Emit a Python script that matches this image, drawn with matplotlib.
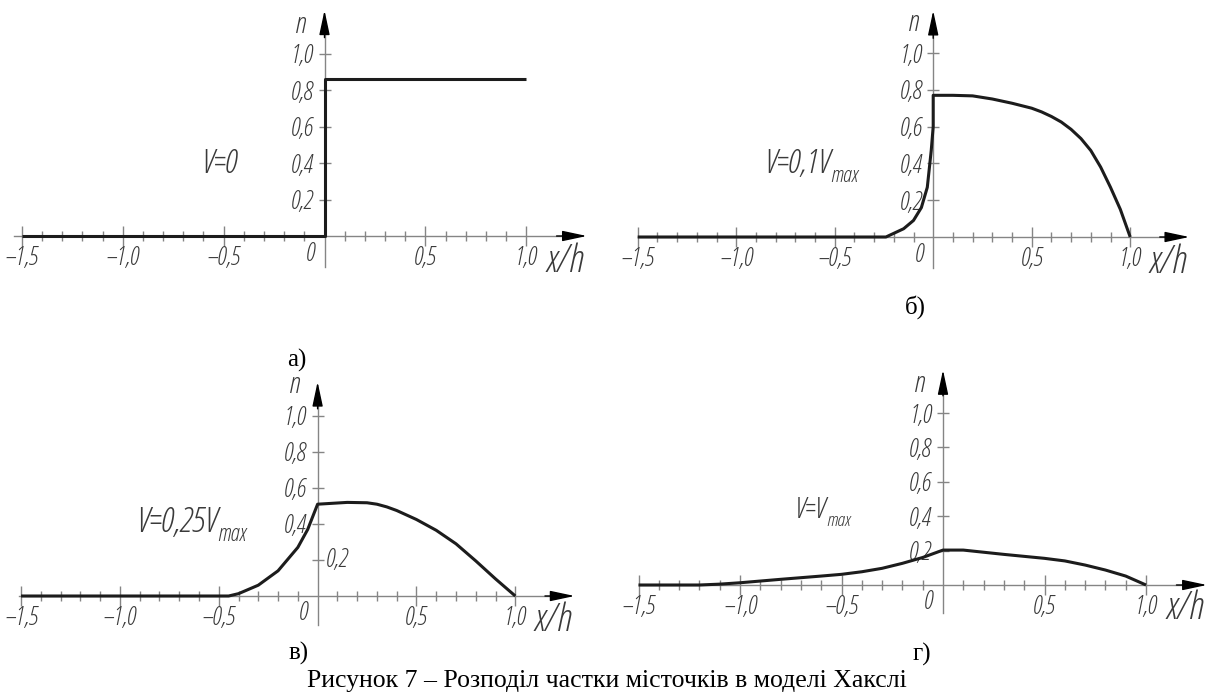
import matplotlib
matplotlib.use("Agg")
import matplotlib.pyplot as plt
from matplotlib.ticker import FixedLocator

W, H = 1211, 693
SANS = ["Open Sans", "DejaVu Sans"]
SERIF = ["Liberation Serif", "DejaVu Serif"]
AXC = "#858585"
TXT = "#3a3a3a"
LINE = "#1c1c1c"

plt.rcParams.update({"font.family": SANS, "font.style": "italic",
                     "font.stretch": "condensed"})

# fraction of bridges n versus x/h
A_X = [-1.5, 0.0, 0.0, 1.0]
A_N = [0.0, 0.0, 0.86, 0.86]

B_X = [-1.5, -0.24, -0.15, -0.10, -0.06, -0.03, -0.01, 0.0, 0.0, 0.1, 0.2, 0.3,
       0.4, 0.5, 0.55, 0.6, 0.65, 0.7, 0.75, 0.8, 0.85, 0.9, 0.95, 1.0]
B_N = [0.0, 0.0, 0.045, 0.09, 0.16, 0.27, 0.47, 0.6, 0.77, 0.77, 0.767, 0.75,
       0.727, 0.70, 0.68, 0.655, 0.625, 0.585, 0.535, 0.47, 0.38, 0.27, 0.15,
       0.0]

C_X = [-1.5, -0.45, -0.4, -0.3, -0.2, -0.1, -0.05, 0.0, 0.15, 0.25, 0.3, 0.35,
       0.4, 0.5, 0.6, 0.7, 0.8, 0.9, 1.0]
C_N = [0.0, 0.0, 0.013, 0.06, 0.14, 0.27, 0.37, 0.51, 0.52, 0.518, 0.51, 0.495,
       0.475, 0.425, 0.365, 0.29, 0.195, 0.095, 0.0]

D_X = [-1.5, -1.2, -1.1, -1.0, -0.8, -0.6, -0.5, -0.4, -0.3, -0.2, -0.1, 0.0,
       0.1, 0.3, 0.5, 0.6, 0.7, 0.8, 0.9, 1.0]
D_N = [0.0, 0.0, 0.005, 0.013, 0.033, 0.052, 0.062, 0.077, 0.097, 0.126, 0.16,
       0.203, 0.203, 0.178, 0.155, 0.14, 0.116, 0.087, 0.052, 0.0]

XT = [-1.5, -1.0, -0.5, 0.5, 1.0]
XT_LAB = ["\u20131,5", "\u20131,0", "\u20130,5", "0,5", "1,0"]
XT_MINOR = [-1.5, -1.4, -1.3, -1.2, -1.1, -1.0, -0.9, -0.8, -0.7, -0.6, -0.5,
            -0.4, -0.3, -0.2, -0.1, 0.1, 0.2, 0.3, 0.4, 0.5, 0.6, 0.7, 0.8,
            0.9, 1.0]
YT = [0.2, 0.4, 0.6, 0.8, 1.0]
YT_LAB = ["0,2", "0,4", "0,6", "0,8", "1,0"]

XLIM = (-1.6, 1.4)
YLIM = (-0.2, 1.25)
TICK_FS = 18


def make_axes(fig, x0, sx, y0, sy):
    # x0, y0: pixel of the origin; sx, sy: pixels per unit
    left = x0 + XLIM[0] * sx
    bottom = y0 - YLIM[0] * sy
    return fig.add_axes([left / W, 1 - bottom / H,
                         (XLIM[1] - XLIM[0]) * sx / W,
                         (YLIM[1] - YLIM[0]) * sy / H])


def panel(ax, xs, ns, x_start, y_bot, y_top, vtext, vpos, vsize, n_pos,
          right_02=False):
    ax.set_xlim(*XLIM)
    ax.set_ylim(*YLIM)
    ax.patch.set_visible(False)
    for s in ("top", "right"):
        ax.spines[s].set_visible(False)
    for s in ("left", "bottom"):
        ax.spines[s].set_position(("data", 0))
        ax.spines[s].set_color(AXC)
        ax.spines[s].set_linewidth(1.0)
    ax.spines["bottom"].set_bounds(x_start, 1.22)
    ax.spines["left"].set_bounds(y_bot, y_top - 0.08)

    arrow = dict(arrowstyle="-|>,head_length=1.5,head_width=0.32",
                 color="black", lw=1.0, shrinkA=0, shrinkB=0)
    ax.annotate("", xy=(1.30, 0), xytext=(1.15, 0), arrowprops=arrow)
    ax.annotate("", xy=(0, y_top), xytext=(0, y_top - 0.15), arrowprops=arrow)

    ax.set_xticks(XT, XT_LAB)
    ax.xaxis.set_minor_locator(FixedLocator(XT_MINOR))
    labs = ["" if (right_02 and v == 0.2) else l for v, l in zip(YT, YT_LAB)]
    ax.set_yticks(YT, labs)
    ax.tick_params(axis="x", which="major", direction="inout", length=14,
                   width=1, color=AXC, labelsize=TICK_FS, labelcolor=TXT, pad=0)
    ax.tick_params(axis="x", which="minor", direction="inout", length=7,
                   width=1, color=AXC)
    ax.tick_params(axis="y", direction="inout", length=8, width=1, color=AXC,
                   labelsize=TICK_FS, labelcolor=TXT, pad=4)
    if right_02:
        ax.text(0.04, 0.2, "0,2", fontsize=TICK_FS, color=TXT, va="center",
                ha="left")

    ax.plot(xs, ns, color=LINE, lw=2.2, solid_joinstyle="round",
            solid_capstyle="butt", zorder=3)

    ax.text(-0.07, -0.1, "0", fontsize=TICK_FS, color=TXT, ha="center",
            va="center")
    ax.text(1.19, -0.14, "x/h", fontsize=28, color=TXT, ha="center",
            va="center")
    ax.text(n_pos[0], n_pos[1], "n", fontsize=21, color=TXT, ha="center",
            va="center")

    main, sub = vtext
    t = ax.text(vpos[0], vpos[1], main, fontsize=vsize, color=TXT,
                va="baseline")
    if sub:
        ax.annotate(sub, xy=(1, 0), xycoords=t, xytext=(0.5, -1.0),
                    textcoords="offset points", fontsize=vsize * 0.66,
                    color=TXT, va="baseline")


fig = plt.figure(figsize=(W / 100, H / 100), dpi=100)
fig.patch.set_facecolor("white")

ax_a = make_axes(fig, 324.5, 201.8, 236, 182)
ax_b = make_axes(fig, 933.2, 197.0, 237, 184)
ax_c = make_axes(fig, 317.6, 197.7, 596, 180)
ax_d = make_axes(fig, 943.0, 203.0, 585, 172)

panel(ax_a, A_X, A_N, -1.54, -0.17, 1.24, ("V=0", ""), (-0.61, 0.346), 24,
      (-0.12, 1.16))
panel(ax_b, B_X, B_N, -1.5, -0.17, 1.23, ("V=0,1V", "max"), (-0.86, 0.35), 24,
      (-0.10, 1.16))
panel(ax_c, C_X, C_N, -1.51, -0.16, 1.19, ("V=0,25V", "max"), (-0.92, 0.355),
      25, (-0.116, 1.17), right_02=True)
panel(ax_d, D_X, D_N, -1.5, -0.16, 1.25, ("V=V", "max"), (-0.73, 0.39), 21,
      (-0.115, 1.17))

for lab, (px, py) in [("а)", (297, 360)), ("б)", (915, 307)),
                      ("в)", (299, 653)), ("г)", (922, 654))]:
    fig.text(px / W, 1 - py / H, lab, family=SERIF, style="normal",
             stretch="normal", fontsize=18, ha="center", va="center",
             color="black")

fig.text(607 / W, 1 - 681 / H,
         "Рисунок 7 – Розподіл частки місточків в моделі Хакслі",
         family=SERIF, style="normal", stretch="normal", fontsize=18.5,
         ha="center", va="center", color="black")

fig.savefig("out.png", dpi=100)
